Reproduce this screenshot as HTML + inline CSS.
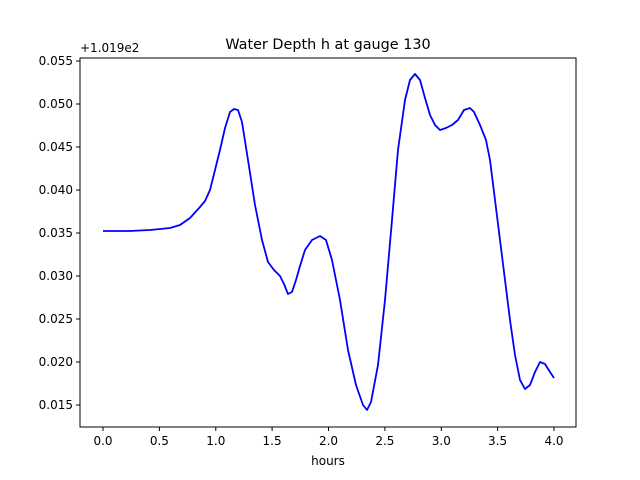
<!DOCTYPE html>
<html><head><meta charset="utf-8"><style>
body{margin:0;background:#fff}
svg{display:block;font-family:"DejaVu Sans","Liberation Sans",sans-serif}
</style></head><body>
<svg width="640" height="480" xmlns="http://www.w3.org/2000/svg">
<rect width="640" height="480" fill="#fff"/>
<text x="328" y="49" font-size="14.4" text-anchor="middle">Water Depth h at gauge 130</text>
<text x="80" y="52" font-size="12">+1.019e2</text>
<polyline fill="none" stroke="#0000ff" stroke-width="1.8" stroke-linejoin="round" points="103,231 130,231 150,230 170,228 180,225 190,218 200,207 205,201 210,190 215,170 220,150 225,128 230,112 234,109 238,110 242,122 248,160 255,205 262,240 268,262 274,270 280,276 284,284 288,294 292,292 296,280 300,266 305,250 312,240 320,236 326,240 332,260 340,300 348,350 356,385 363,405 367,410 371,402 378,365 385,300 392,220 398,150 405,100 410,80 415,74 420,80 425,98 430,115 435,125 440,130 446,128 452,125 458,120 464,110 470,108 474,112 480,125 486,140 490,160 495,200 500,240 505,280 510,320 515,355 520,380 525,389 530,385 535,372 540,362 545,364 550,372 554,378"/>
<rect x="80" y="58" width="496" height="369" fill="none" stroke="#000" stroke-width="1"/>
<g stroke="#000" stroke-width="1">
<line x1="103" y1="427" x2="103" y2="431"/><line x1="159.4" y1="427" x2="159.4" y2="431"/><line x1="215.8" y1="427" x2="215.8" y2="431"/><line x1="272.1" y1="427" x2="272.1" y2="431"/><line x1="328.5" y1="427" x2="328.5" y2="431"/><line x1="384.9" y1="427" x2="384.9" y2="431"/><line x1="441.3" y1="427" x2="441.3" y2="431"/><line x1="497.6" y1="427" x2="497.6" y2="431"/><line x1="554" y1="427" x2="554" y2="431"/>
<line x1="76" y1="61" x2="80" y2="61"/><line x1="76" y1="104" x2="80" y2="104"/><line x1="76" y1="147" x2="80" y2="147"/><line x1="76" y1="190" x2="80" y2="190"/><line x1="76" y1="233" x2="80" y2="233"/><line x1="76" y1="276" x2="80" y2="276"/><line x1="76" y1="319" x2="80" y2="319"/><line x1="76" y1="362" x2="80" y2="362"/><line x1="76" y1="405" x2="80" y2="405"/>
</g>
<g font-size="12" text-anchor="middle">
<text x="103" y="445">0.0</text><text x="159.4" y="445">0.5</text><text x="215.8" y="445">1.0</text><text x="272.1" y="445">1.5</text><text x="328.5" y="445">2.0</text><text x="384.9" y="445">2.5</text><text x="441.3" y="445">3.0</text><text x="497.6" y="445">3.5</text><text x="554" y="445">4.0</text>
<text x="328" y="465">hours</text>
</g>
<g font-size="12" text-anchor="end">
<text x="73" y="65">0.055</text><text x="73" y="108">0.050</text><text x="73" y="151">0.045</text><text x="73" y="194">0.040</text><text x="73" y="237">0.035</text><text x="73" y="280">0.030</text><text x="73" y="323">0.025</text><text x="73" y="366">0.020</text><text x="73" y="409">0.015</text>
</g>
</svg>
</body></html>
